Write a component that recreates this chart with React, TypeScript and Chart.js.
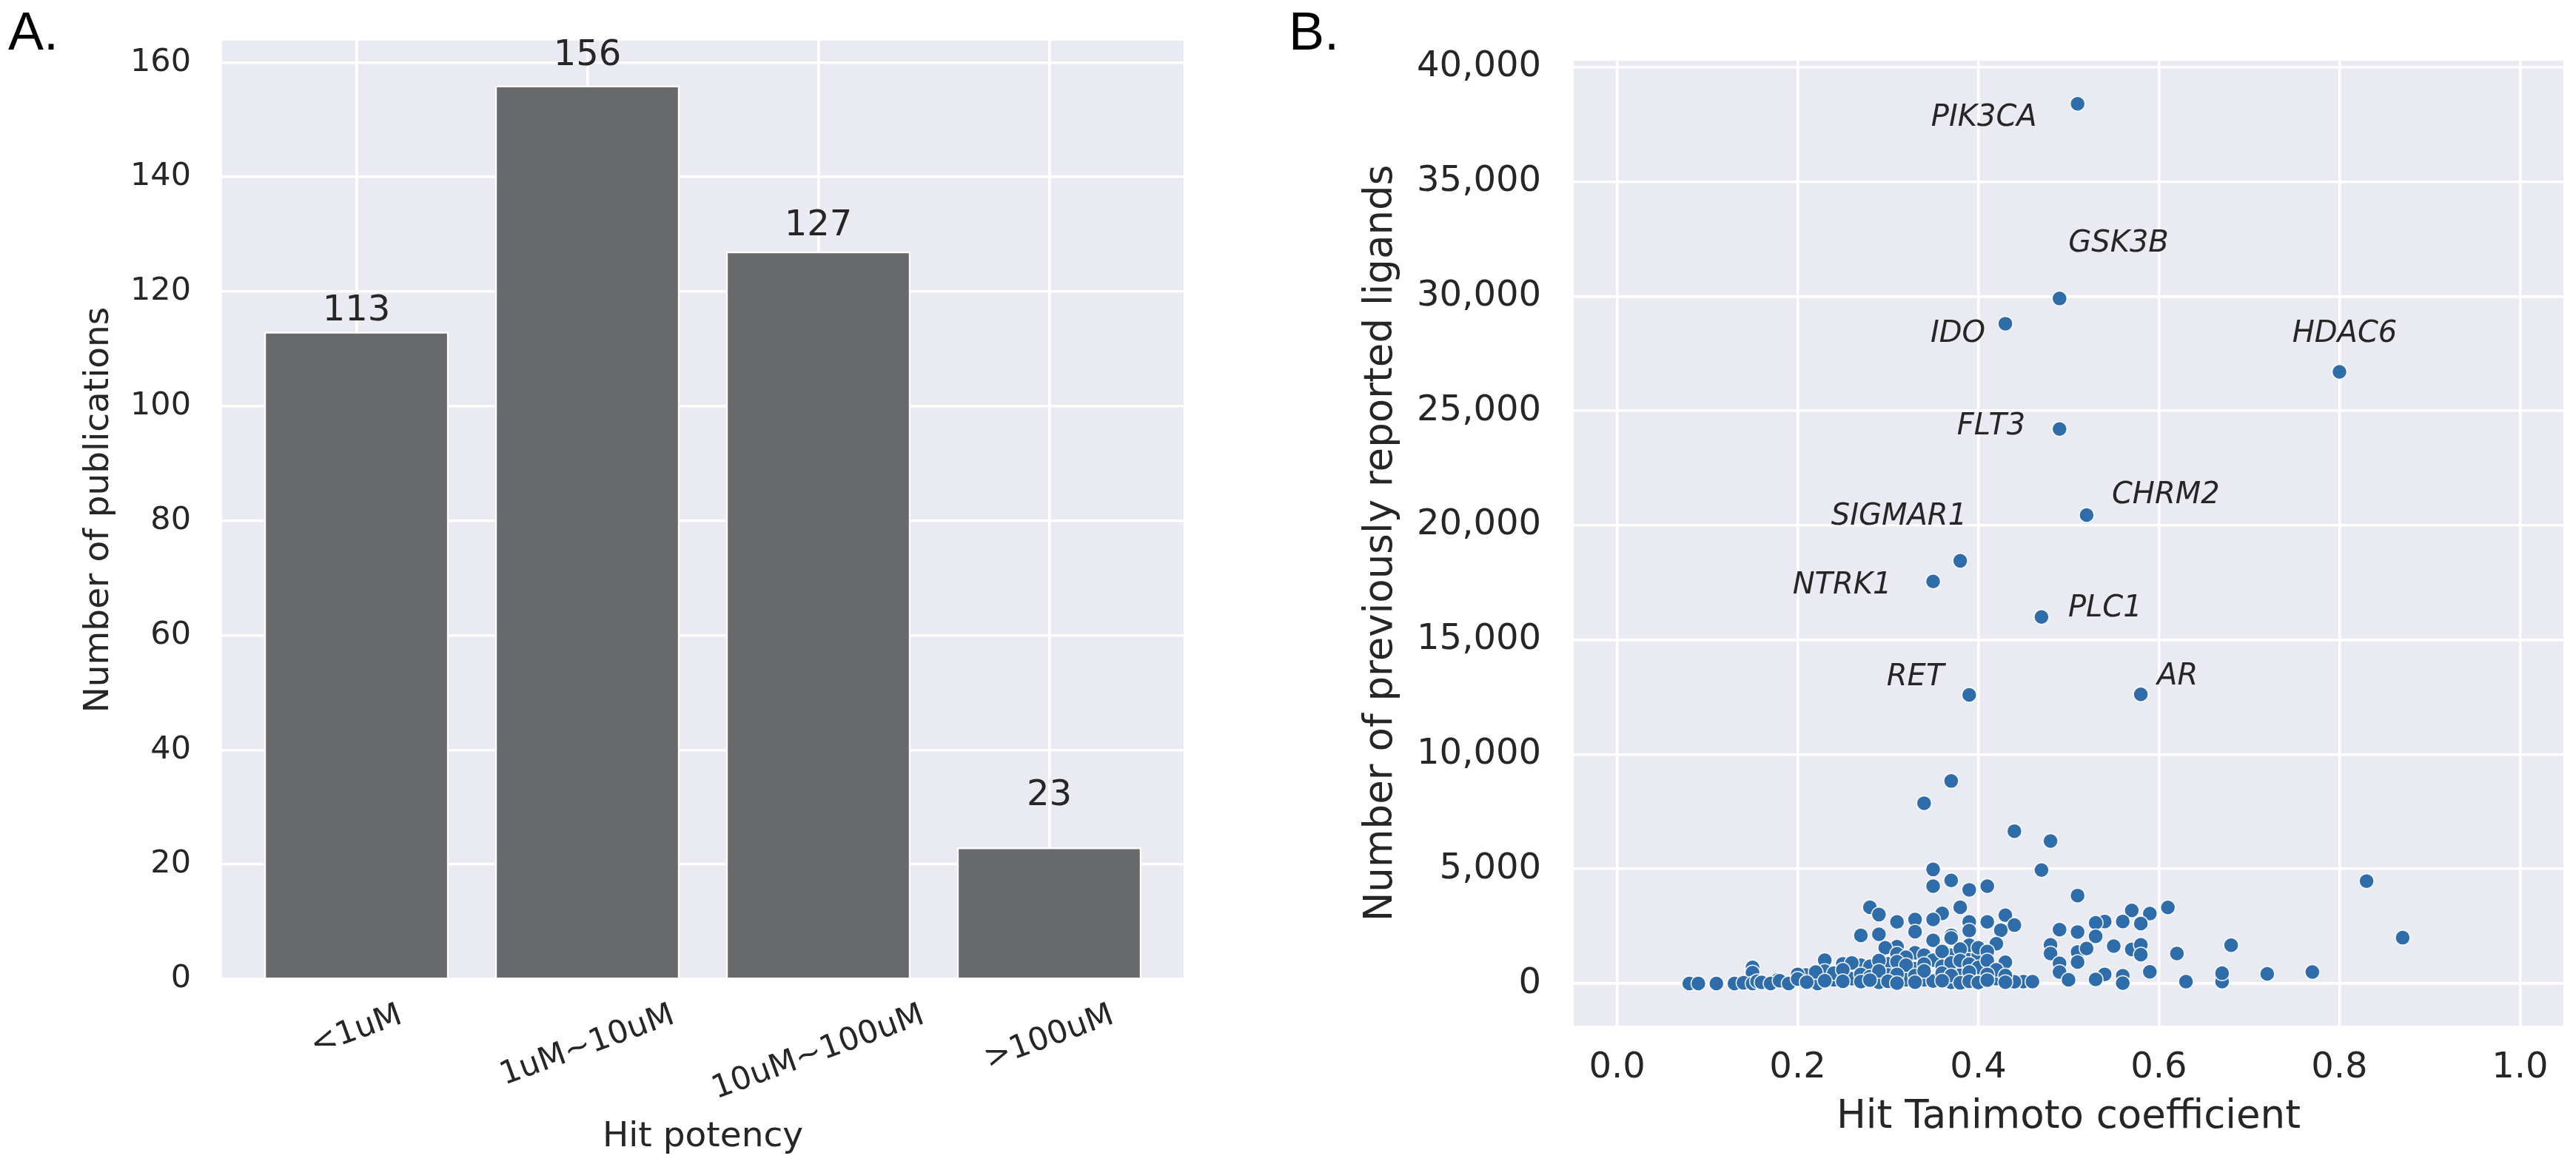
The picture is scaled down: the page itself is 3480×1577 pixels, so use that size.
import React, { useEffect, useRef } from 'react';
import { Chart, registerables } from 'chart.js';

Chart.register(...registerables);
Chart.defaults.font.family = "'DejaVu Sans', sans-serif";
Chart.defaults.color = '#262626';

// ---------- Panel A data ----------
const potencyCategories = ['<1uM', '1uM~10uM', '10uM~100uM', '>100uM'];
const publicationCounts = [113, 156, 127, 23];
const publicationTicks = [0, 20, 40, 60, 80, 100, 120, 140, 160];

// ---------- Panel B data ----------
const namedTargets = ['PIK3CA', 'GSK3B', 'IDO', 'HDAC6', 'FLT3', 'CHRM2', 'SIGMAR1', 'NTRK1', 'PLC1', 'RET', 'AR'];
const namedTanimoto = [0.51, 0.49, 0.43, 0.80, 0.49, 0.52, 0.38, 0.35, 0.47, 0.39, 0.58];
const namedLigands = [38400, 29900, 28800, 26700, 24200, 20450, 18450, 17550, 16000, 12600, 12620];

const otherTanimoto = [
  0.37, 0.34, 0.44, 0.48, 0.35, 0.47, 0.83, 0.87, 0.51, 0.61,
  0.57, 0.59, 0.56, 0.58, 0.54, 0.53, 0.53, 0.51, 0.49, 0.43,
  0.44, 0.425, 0.42, 0.43, 0.48, 0.48, 0.51, 0.52, 0.51, 0.49,
  0.49, 0.50, 0.55, 0.57, 0.58, 0.58, 0.62, 0.68, 0.59, 0.63,
  0.67, 0.67, 0.72, 0.77, 0.54, 0.53, 0.56, 0.56, 0.45, 0.46,
  0.44, 0.42, 0.37, 0.35, 0.39, 0.41, 0.38, 0.36, 0.28, 0.29,
  0.31, 0.33, 0.35, 0.39, 0.41, 0.27, 0.33, 0.37, 0.35, 0.31,
  0.297, 0.33, 0.34, 0.37, 0.39, 0.40, 0.35, 0.23, 0.25, 0.30,
  0.27, 0.28, 0.15, 0.33, 0.23, 0.15, 0.30, 0.38, 0.40, 0.209,
  0.26, 0.42, 0.178, 0.24, 0.32, 0.34, 0.35, 0.29, 0.37, 0.222,
  0.29, 0.39, 0.37, 0.39, 0.40, 0.31, 0.36, 0.38, 0.41, 0.32,
  0.26, 0.29, 0.31, 0.32, 0.34, 0.36, 0.37, 0.38, 0.39, 0.40,
  0.41, 0.42, 0.20, 0.22, 0.24, 0.25, 0.27, 0.28, 0.29, 0.31,
  0.33, 0.34, 0.36, 0.37, 0.39, 0.41, 0.43, 0.08, 0.09, 0.11,
  0.13, 0.14, 0.15, 0.155, 0.16, 0.17, 0.18, 0.19, 0.20, 0.21,
  0.23, 0.25, 0.27, 0.28, 0.30, 0.31, 0.33, 0.36, 0.38, 0.39,
  0.40, 0.41, 0.43,
];
const otherLigands = [
  8840, 7870, 6650, 6220, 4980, 4950, 4470, 2000, 3840, 3320,
  3190, 3050, 2710, 2620, 2710, 2650, 2060, 2250, 2350, 2980,
  2550, 2330, 1740, 930, 1690, 1310, 1370, 1530, 940, 880,
  500, 160, 1630, 1490, 1690, 1260, 1310, 1670, 510, 80,
  80, 450, 420, 500, 400, 180, 340, 20, 80, 80,
  75, 180, 4500, 4250, 4090, 4250, 3330, 3060, 3330, 3010,
  2690, 2795, 2795, 2690, 2690, 2100, 2260, 2100, 1880, 1610,
  1560, 1340, 1240, 1240, 1240, 1240, 1020, 1020, 860, 860,
  800, 750, 700, 645, 540, 480, 376, 376, 376, 376,
  215, 215, 160, 160, 160, 160, 107, 50, 50, 0,
  2150, 2310, 1990, 1670, 1560, 1300, 1400, 1500, 1400, 1150,
  900, 1000, 950, 800, 850, 750, 900, 1000, 850, 700,
  1000, 600, 400, 500, 450, 600, 400, 300, 550, 400,
  350, 550, 450, 350, 500, 400, 350, 0, 0, 0,
  0, 30, 0, 100, 50, 0, 120, 0, 200, 60,
  120, 100, 80, 150, 100, 20, 60, 120, 30, 100,
  40, 150, 60,
];
const tanimotoTicks = [0, 0.2, 0.4, 0.6, 0.8, 1.0];
const ligandTicks = [0, 5000, 10000, 15000, 20000, 25000, 30000, 35000, 40000];

// ---------- style constants ----------
const TEXT = '#262626';
const PLOT_BG = '#EAEAF2';
const BAR_COLOR = '#68696b';
const DOT_COLOR = 'rgb(46,108,170)';
const barLabelLift = [15, 27, 22, 57]; // px above bar top (baseline)
const nameLabelStyle: Record<string, { dx: number; dy: number; align: CanvasTextAlign }> = {
  PIK3CA: { dx: -55, dy: 30, align: 'right' },
  GSK3B: { dx: 12, dy: -63, align: 'left' },
  IDO: { dx: -27, dy: 25, align: 'right' },
  HDAC6: { dx: 7, dy: -40, align: 'center' },
  FLT3: { dx: -46, dy: 7, align: 'right' },
  CHRM2: { dx: 34, dy: -16, align: 'left' },
  SIGMAR1: { dx: 9, dy: -49, align: 'right' },
  NTRK1: { dx: -56, dy: 16, align: 'right' },
  PLC1: { dx: 36, dy: -1, align: 'left' },
  RET: { dx: -34, dy: -13, align: 'right' },
  AR: { dx: 22, dy: -13, align: 'left' },
};

const plotBackground = {
  id: 'plotBackground',
  beforeDraw(chart: any) {
    const { ctx, chartArea } = chart;
    ctx.save();
    ctx.fillStyle = PLOT_BG;
    ctx.fillRect(chartArea.left, chartArea.top, chartArea.right - chartArea.left, chartArea.bottom - chartArea.top);
    ctx.restore();
  },
};

const panelLetter = (text: string, x: number, y: number) => ({
  id: 'panelLetter' + text,
  afterDraw(chart: any) {
    const ctx = chart.ctx;
    ctx.save();
    ctx.font = "72px 'Liberation Sans', sans-serif";
    ctx.fillStyle = '#000000';
    ctx.textAlign = 'left';
    ctx.textBaseline = 'alphabetic';
    ctx.fillText(text, x, y);
    ctx.restore();
  },
});

const barValueLabels = {
  id: 'barValueLabels',
  afterDatasetsDraw(chart: any) {
    const ctx = chart.ctx;
    const meta = chart.getDatasetMeta(0);
    ctx.save();
    ctx.font = "48px 'DejaVu Sans', sans-serif";
    ctx.fillStyle = TEXT;
    ctx.textAlign = 'center';
    ctx.textBaseline = 'alphabetic';
    meta.data.forEach((bar: any, i: number) => {
      ctx.fillText(String(publicationCounts[i]), bar.x, bar.y - barLabelLift[i]);
    });
    ctx.restore();
  },
};

const potencyTickLabels = {
  id: 'potencyTickLabels',
  afterDraw(chart: any) {
    const ctx = chart.ctx;
    const xs = chart.scales.x;
    const size = 43;
    const th = (20 * Math.PI) / 180;
    ctx.save();
    ctx.font = `${size}px 'DejaVu Sans', sans-serif`;
    ctx.fillStyle = TEXT;
    ctx.textAlign = 'center';
    ctx.textBaseline = 'middle';
    potencyCategories.forEach((lab, i) => {
      const w = ctx.measureText(lab).width;
      const H = w * Math.sin(th) + size * Math.cos(th);
      const cx = xs.getPixelForValue(i);
      const cy = chart.chartArea.bottom + 28 + H / 2;
      ctx.save();
      ctx.translate(cx, cy);
      ctx.rotate(-th);
      ctx.fillText(lab, 0, 0);
      ctx.restore();
    });
    ctx.restore();
  },
};

const targetNameLabels = {
  id: 'targetNameLabels',
  afterDatasetsDraw(chart: any) {
    const ctx = chart.ctx;
    const xs = chart.scales.x;
    const ys = chart.scales.y;
    ctx.save();
    ctx.font = "italic 40px 'DejaVu Sans', sans-serif";
    ctx.fillStyle = TEXT;
    ctx.textBaseline = 'alphabetic';
    namedTargets.forEach((name, i) => {
      const st = nameLabelStyle[name];
      const px = xs.getPixelForValue(namedTanimoto[i]);
      const py = ys.getPixelForValue(namedLigands[i]);
      ctx.textAlign = st.align;
      ctx.fillText(name, px + st.dx, py + st.dy);
    });
    ctx.restore();
  },
};

// invisible tick marks carry the label gap, so the axis auto-padding stays small
const gridStyle = (gap: number) => ({
  color: '#ffffff',
  lineWidth: 3.5,
  drawTicks: true,
  tickLength: gap,
  tickColor: 'rgba(0,0,0,0)',
  offset: false,
});

export default function App() {
  const refA = useRef<HTMLCanvasElement>(null);
  const refB = useRef<HTMLCanvasElement>(null);

  useEffect(() => {
    const chartA = new Chart(refA.current as HTMLCanvasElement, {
      type: 'bar',
      data: {
        datasets: [
          {
            data: publicationCounts.map((v, i) => ({ x: i, y: v })),
            backgroundColor: BAR_COLOR,
            borderColor: '#ffffff',
            borderWidth: 2.5,
            categoryPercentage: 1,
            barPercentage: 0.8,
          } as any,
        ],
      },
      options: {
        responsive: false,
        animation: false,
        layout: { padding: { left: 0, top: 55, right: 141, bottom: 0 } },
        plugins: { legend: { display: false }, tooltip: { enabled: false } },
        scales: {
          x: {
            type: 'linear',
            offset: false,
            min: -0.582,
            max: 3.582,
            grid: gridStyle(0),
            border: { display: false },
            ticks: { display: false, padding: 0 },
            afterBuildTicks: (s: any) => {
              s.ticks = potencyCategories.map((_, i) => ({ value: i }));
            },
            afterFit: (s: any) => {
              s.height = 254;
            },
            title: { display: true, text: 'Hit potency', color: TEXT, font: { size: 47 }, padding: { top: 0, bottom: 12 } },
          },
          y: {
            type: 'linear',
            min: 0,
            max: 163.8,
            grid: gridStyle(42),
            border: { display: false },
            ticks: { font: { size: 43 }, color: TEXT, padding: 0 },
            afterBuildTicks: (s: any) => {
              s.ticks = publicationTicks.map((v) => ({ value: v }));
            },
            afterFit: (s: any) => {
              s.width = 300;
            },
            title: { display: true, text: 'Number of publications', color: TEXT, font: { size: 47 }, padding: { top: 106, bottom: 0 } },
          },
        },
      } as any,
      plugins: [plotBackground, panelLetter('A.', 11, 67), barValueLabels, potencyTickLabels],
    });

    const points = [
      ...otherTanimoto.map((x, i) => ({ x, y: otherLigands[i] })),
      ...namedTanimoto.map((x, i) => ({ x, y: namedLigands[i] })),
    ];

    const chartB = new Chart(refB.current as HTMLCanvasElement, {
      type: 'scatter',
      data: {
        datasets: [
          {
            data: points,
            pointRadius: 10,
            pointHoverRadius: 10,
            pointBackgroundColor: DOT_COLOR,
            pointBorderColor: 'rgba(255,255,255,0.9)',
            pointBorderWidth: 1.5,
          },
        ],
      },
      options: {
        responsive: false,
        animation: false,
        layout: { padding: { left: 0, top: 82, right: 17, bottom: 0 } },
        plugins: { legend: { display: false }, tooltip: { enabled: false } },
        scales: {
          x: {
            type: 'linear',
            min: -0.048,
            max: 1.048,
            grid: gridStyle(29),
            border: { display: false },
            ticks: { font: { size: 48 }, color: TEXT, padding: 0, callback: (v: any) => Number(v).toFixed(1) },
            afterBuildTicks: (s: any) => {
              s.ticks = tanimotoTicks.map((v) => ({ value: v }));
            },
            afterFit: (s: any) => {
              s.height = 191;
            },
            title: { display: true, text: 'Hit Tanimoto coefficient', color: TEXT, font: { size: 53 }, padding: { top: 0, bottom: 35 } },
          },
          y: {
            type: 'linear',
            min: -1840,
            max: 40280,
            grid: gridStyle(44),
            border: { display: false },
            ticks: { font: { size: 48 }, color: TEXT, padding: 0, callback: (v: any) => Number(v).toLocaleString('en-US') },
            afterBuildTicks: (s: any) => {
              s.ticks = ligandTicks.map((v) => ({ value: v }));
            },
            afterFit: (s: any) => {
              s.width = 386;
            },
            title: {
              display: true,
              text: 'Number of previously reported ligands',
              color: TEXT,
              font: { size: 53 },
              padding: { top: 94, bottom: 0 },
            },
          },
        },
      } as any,
      plugins: [plotBackground, panelLetter('B.', 1, 67), targetNameLabels],
    });

    return () => {
      chartA.destroy();
      chartB.destroy();
    };
  }, []);

  return (
    <div style={{ position: 'fixed', left: 0, top: 0, width: 3480, height: 1577, background: '#ffffff' }}>
      <canvas
        ref={refA}
        width={1740}
        height={1577}
        style={{ position: 'absolute', left: 0, top: 0, width: 1740, height: 1577 }}
      />
      <canvas
        ref={refB}
        width={1740}
        height={1577}
        style={{ position: 'absolute', left: 1740, top: 0, width: 1740, height: 1577 }}
      />
    </div>
  );
}
